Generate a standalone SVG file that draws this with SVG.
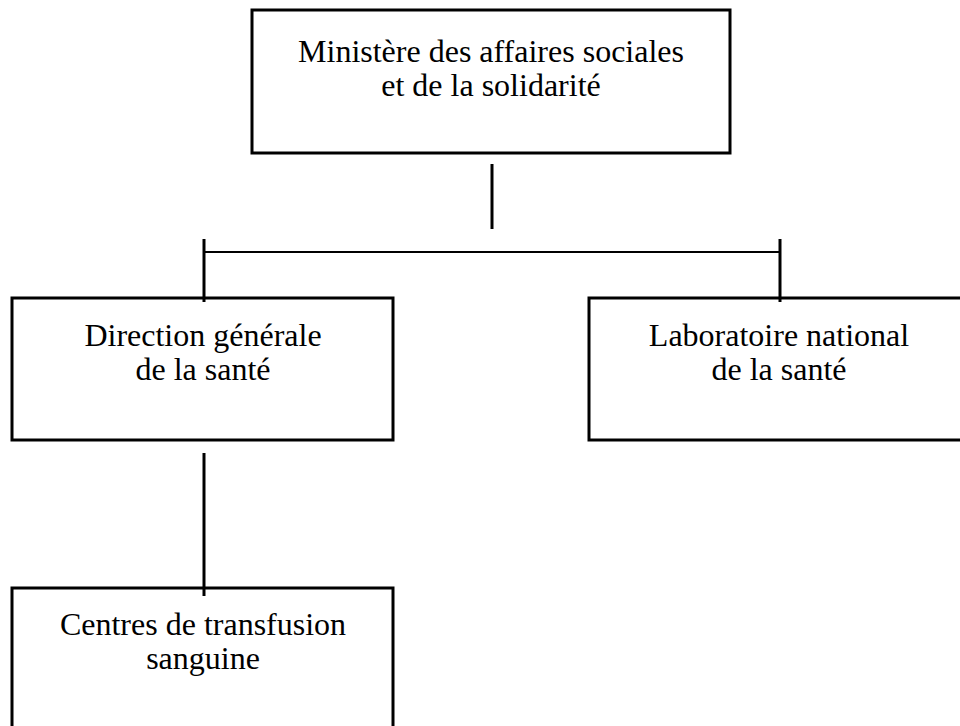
<svg xmlns="http://www.w3.org/2000/svg" width="960" height="726" viewBox="0 0 960 726">
<style>
.box{fill:#fff;stroke:#000;stroke-width:3}
.lbl{font-family:"Liberation Serif","Times New Roman",serif;font-size:32px;fill:#000;text-anchor:middle}
.con line{stroke:#000;stroke-width:3}
</style>
<rect width="960" height="726" fill="#fff"/>
<g id="n-ministere">
<rect class="box" x="252" y="10" width="478" height="143"/>
<text class="lbl" x="491" y="62">Ministère des affaires sociales</text>
<text class="lbl" x="491" y="96">et de la solidarité</text>
</g>
<g id="n-dgs">
<rect class="box" x="12" y="298" width="381" height="142"/>
<text class="lbl" x="203" y="346">Direction générale</text>
<text class="lbl" x="203" y="380">de la santé</text>
</g>
<g id="n-lns">
<rect class="box" x="589" y="298" width="380" height="142"/>
<text class="lbl" x="779" y="346">Laboratoire national</text>
<text class="lbl" x="779" y="380">de la santé</text>
</g>
<g id="n-cts">
<rect class="box" x="12" y="588" width="381" height="160"/>
<text class="lbl" x="203" y="635">Centres de transfusion</text>
<text class="lbl" x="203" y="669">sanguine</text>
</g>
<g id="connectors" class="con">
<line x1="492" y1="164" x2="492" y2="229"/>
<line x1="204" y1="252" x2="780" y2="252" style="stroke-width:2"/>
<line x1="204" y1="239" x2="204" y2="302"/>
<line x1="780" y1="239" x2="780" y2="302"/>
<line x1="204" y1="453" x2="204" y2="596"/>
</g>
</svg>
